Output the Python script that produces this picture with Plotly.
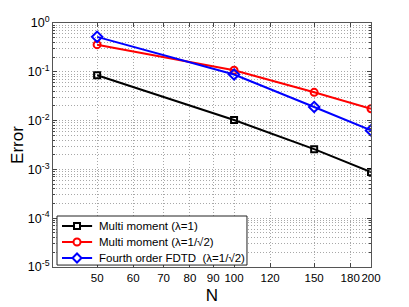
import plotly.graph_objects as go

N = [50, 100, 150, 200]
mm1 = [0.085, 0.0103, 0.0026, 0.00088]
mm2 = [0.36, 0.108, 0.038, 0.0175]
fdtd = [0.52, 0.088, 0.019, 0.0063]
names = ["Multi moment (λ=1)", "Multi moment (λ=1/√2)", "Fourth order FDTD  (λ=1/√2)"]
colors = ["black", "red", "blue"]
symbols = ["square-open", "circle-open", "diamond-open"]

x_ticks = [50, 60, 70, 80, 90, 100, 120, 150, 180, 200]
y_ticks = [1e-5, 1e-4, 1e-3, 1e-2, 1e-1, 1e0]
y_ticktext = ["10<sup>-5</sup>", "10<sup>-4</sup>", "10<sup>-3</sup>", "10<sup>-2</sup>", "10<sup>-1</sup>", "10<sup>0</sup>"]
y_minor = [m * 10**e for e in range(-5, 0) for m in range(2, 10)]

fig = go.Figure()
sizes = [6, 7, 8]
for ys, nm, c, s, sz in zip([mm1, mm2, fdtd], names, colors, symbols, sizes):
    fig.add_trace(go.Scatter(x=N, y=ys, mode="lines+markers", name=nm,
                             line=dict(color=c, width=2),
                             marker=dict(symbol=s, size=sz, color=c, line=dict(width=2))))

# --- custom compact legend (paper coordinates) ---
PW, PH = 318.0, 244.0
def px(dx):
    return dx / PW
def py(dy):
    return dy / PH

shapes = [dict(type="rect", xref="paper", yref="paper", x0=0.0126, x1=0.610, y0=0.008, y1=0.209,
               fillcolor="white", line=dict(color="#222", width=1), layer="above")]
annotations = []
row_y = [0.168, 0.1025, 0.0369]
lx0, lx1, mx = 0.0283, 0.123, 0.0755
for i, (nm, c) in enumerate(zip(names, colors)):
    yy = row_y[i]
    shapes.append(dict(type="line", xref="paper", yref="paper", x0=lx0, x1=lx1, y0=yy, y1=yy,
                       line=dict(color=c, width=2), layer="above"))
    if i == 0:
        shapes.append(dict(type="rect", xref="paper", yref="paper",
                           x0=mx - px(3), x1=mx + px(3), y0=yy - py(3), y1=yy + py(3),
                           fillcolor="white", line=dict(color=c, width=2), layer="above"))
    elif i == 1:
        shapes.append(dict(type="circle", xref="paper", yref="paper",
                           x0=mx - px(3.5), x1=mx + px(3.5), y0=yy - py(3.5), y1=yy + py(3.5),
                           fillcolor="white", line=dict(color=c, width=2), layer="above"))
    else:
        d = 4.5
        path = (f"M {mx - px(d)},{yy} L {mx},{yy + py(d)} L {mx + px(d)},{yy} "
                f"L {mx},{yy - py(d)} Z")
        shapes.append(dict(type="path", xref="paper", yref="paper", path=path,
                           fillcolor="white", line=dict(color=c, width=2), layer="above"))
    annotations.append(dict(xref="paper", yref="paper", x=0.138, y=yy, text=nm, showarrow=False,
                            xanchor="left", yanchor="middle", font=dict(size=11.5, color="black")))

GRID = "#a8a8a8"
DASH = "1px,2px"

fig.update_layout(
    width=409, height=307,
    margin=dict(l=45, r=46, t=15, b=48),
    paper_bgcolor="white", plot_bgcolor="white",
    font=dict(family="Liberation Sans, Arial", size=11, color="black"),
    showlegend=False,
    shapes=shapes,
    annotations=annotations,
)
fig.update_xaxes(type="log", range=[1.602, 2.301], tickvals=x_ticks,
                 ticktext=[str(v) for v in x_ticks], tickfont=dict(size=11.5),
                 tickangle=0, automargin=False,
                 showgrid=True, gridcolor=GRID, griddash=DASH, gridwidth=1,
                 ticks="inside", ticklen=4, tickcolor="#444",
                 showline=True, linecolor="#555", linewidth=1, mirror="ticks",
                 zeroline=False,
                 title=dict(text="N", font=dict(size=17), standoff=6))
fig.update_yaxes(type="log", range=[-5, 0], tickvals=y_ticks, ticktext=y_ticktext,
                 tickfont=dict(size=12.5), automargin=False,
                 showgrid=True, gridcolor=GRID, griddash=DASH, gridwidth=1,
                 minor=dict(tickvals=y_minor, showgrid=True, gridcolor=GRID,
                            griddash=DASH, gridwidth=1, ticks="inside", ticklen=2, tickcolor="#444"),
                 ticks="inside", ticklen=4, tickcolor="#444",
                 showline=True, linecolor="#555", linewidth=1, mirror="ticks",
                 zeroline=False,
                 title=dict(text="Error", font=dict(size=17), standoff=4))

fig.write_html("out.html")
